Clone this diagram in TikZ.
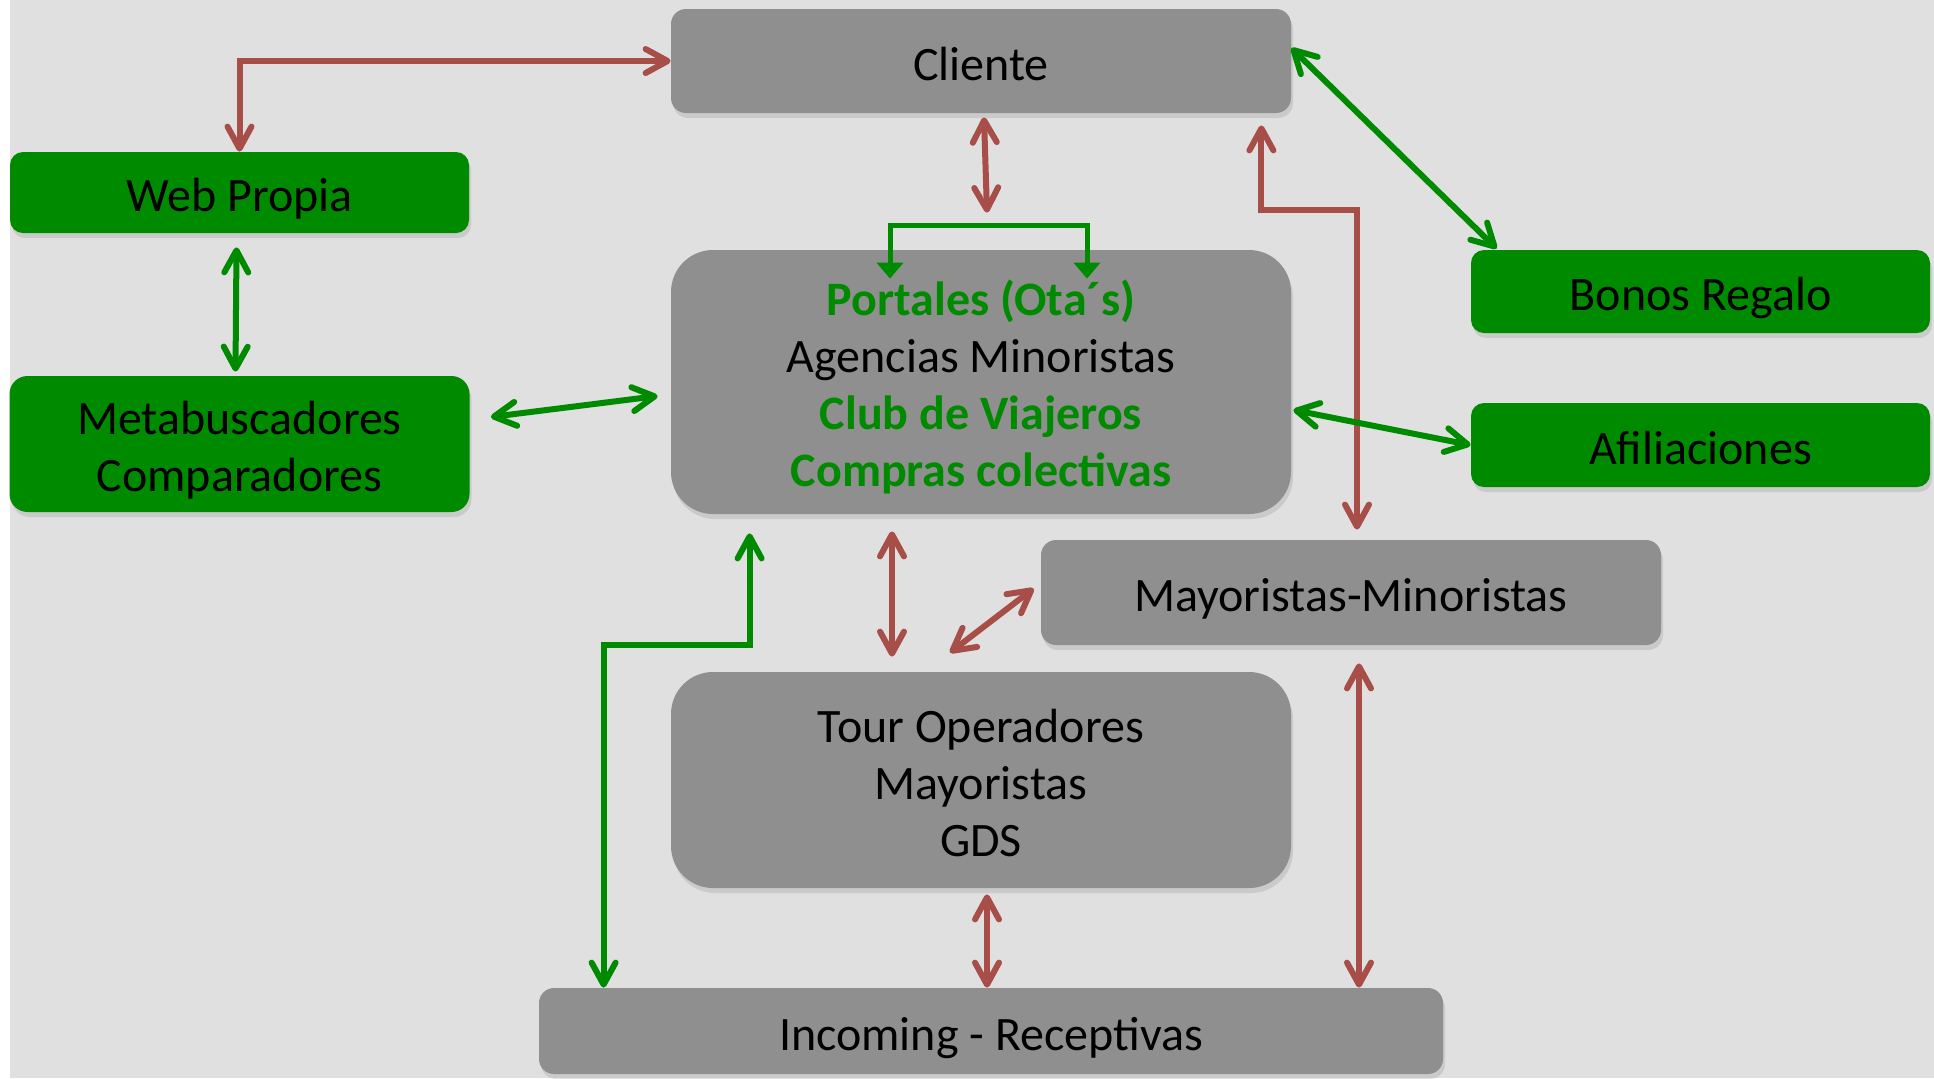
\documentclass[tikz,border=0pt]{standalone}
\usepackage{fontspec}
\setmainfont{Carlito}
\usetikzlibrary{arrows.meta,calc,shadows}
\definecolor{bggray}{HTML}{E0E0E0}
\definecolor{boxgray}{HTML}{8F8F8F}
\definecolor{boxgreen}{HTML}{008A00}
\definecolor{linkred}{HTML}{A84E48}
\definecolor{linkgreen}{HTML}{008A00}

\begin{document}
\begin{tikzpicture}[
    x=0.5pt, y=-0.5pt,
    font=\fontsize{24}{28.5}\selectfont,
    box/.style={rectangle, fill=boxgray, rounded corners=7.5pt, align=center, inner sep=0pt,
        text height=21pt, text depth=2pt,
        drop shadow={shadow xshift=1pt, shadow yshift=-2.5pt, opacity=0.22}},
    bigbox/.style={box, rounded corners=21pt},
    greenbox/.style={box, fill=boxgreen, minimum width=229.5pt, rounded corners=6.5pt},
    redarrow/.style={{Straight Barb[length=11pt,width=12pt,round]}-{Straight Barb[length=11pt,width=12pt,round]}, draw=linkred, line width=3pt},
    greenarrow/.style={redarrow, draw=linkgreen},
    bracket/.style={{Triangle[length=8pt,width=13pt]}-{Triangle[length=8pt,width=13pt]}, draw=linkgreen, line width=2.5pt}
]
    \clip (0,0) rectangle (1934,1078);
    \fill[white] (0,0) rectangle (1934,1078);
    \fill[bggray] (10,0) rectangle (1934,1078);

    % centre column
    \node[box, minimum width=310pt, minimum height=52pt] (cliente) at (981,61) {Cliente};
    \node[bigbox, minimum width=310pt, minimum height=132pt, text height=106.5pt, below of=cliente, node distance=160.5pt] (portales)
        {{\bfseries\color{linkgreen}Portales (Ota´s)}\\Agencias Minoristas\\{\bfseries\color{linkgreen}Club de Viajeros}\\{\bfseries\color{linkgreen}Compras colectivas}};
    \node[bigbox, minimum width=310pt, minimum height=108pt, text height=78pt, below of=portales, node distance=199pt] (tour)
        {Tour Operadores\\Mayoristas\\GDS};
    \node[box, minimum width=310pt, minimum height=52.5pt] (maymin) at (1351,592.5) {Mayoristas-Minoristas};
    \node[box, minimum width=452pt, minimum height=43pt] (incoming) at (991,1031) {Incoming - Receptivas};

    % green boxes
    \node[greenbox, minimum height=40.5pt] (web) at (239.5,192.5) {Web Propia};
    \node[greenbox, minimum width=230pt, minimum height=68pt, rounded corners=9pt, text height=49.5pt, below of=web, node distance=125.75pt] (meta)
        {Metabuscadores\\Comparadores};
    \node[greenbox, minimum height=41.5pt] (bonos) at (1700.5,291.5) {Bonos Regalo};
    \node[greenbox, minimum height=42pt, below of=bonos, node distance=76.75pt] (afil) {Afiliaciones};

    % red links
    \draw[redarrow] (web.north) |- (cliente.west);
    \draw[redarrow] ($(cliente.south)+(3,4)$) -- ($(portales.north)+(6,-37)$);
    \draw[redarrow] ($(cliente.south east)+(-30,12)$) -- ++(0,85) -| ($(maymin.north)+(6,-10)$);
    \draw[redarrow] ($(portales.south)+(-89,17)$) -- ($(tour.north)+(-89,-15)$);
    \draw[redarrow] ($(maymin.west)+(-7,-4)$) -- ($(tour.north)+(-31,-19)$);
    \draw[redarrow] ($(tour.south)+(6,6)$) -- ($(incoming.north)+(-4,0)$);
    \draw[redarrow] ($(maymin.south)+(8,18)$) -- ($(incoming.north)+(368,0)$);

    % green links
    \draw[greenarrow] ($(web.south)+(-3,14)$) -- ($(meta.north)+(-4,-4)$);
    \draw[greenarrow] ($(meta.east)+(21,-27)$) -- ($(portales.west)+(-13,14)$);
    \draw[greenarrow] ($(cliente.east)+(0,-13)$) -- ($(bonos.north west)+(26,-1)$);
    \draw[greenarrow] ($(portales.east)+(2,28)$) -- (afil.west);
    \draw[greenarrow] ($(portales.south west)+(79,19)$) -- ++(0,112) -| ($(incoming.north west)+(65,0)$);
    \draw[bracket] ($(portales.north)+(-91,29)$) -- ++(0,-53) -| ($(portales.north)+(106,29)$);
\end{tikzpicture}
\end{document}
